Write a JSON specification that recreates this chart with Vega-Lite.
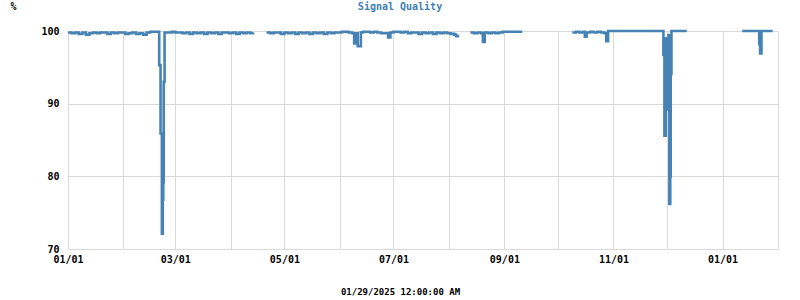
{
  "$schema": "https://vega.github.io/schema/vega-lite/v6.json",
  "width": 710,
  "height": 218,
  "autosize": "none",
  "padding": {"left": 68, "top": 31, "right": 22, "bottom": 51},
  "background": "white",
  "config": {
    "view": {"stroke": null},
    "font": "DejaVu Sans Mono"
  },
  "title": {
    "text": "Signal Quality",
    "color": "#3f7fb5",
    "font": "DejaVu Sans Mono",
    "fontSize": 10,
    "fontWeight": "bold",
    "anchor": "middle",
    "frame": "group",
    "dx": -23,
    "dy": 11,
    "offset": 0
  },
  "data": {
    "values": [
      {"t": "2024-01-01T00:00:00", "v": 99.8, "s": 1},
      {"t": "2024-01-03T00:00:00", "v": 99.7, "s": 1},
      {"t": "2024-01-05T00:00:00", "v": 99.8, "s": 1},
      {"t": "2024-01-07T00:00:00", "v": 99.6, "s": 1},
      {"t": "2024-01-09T00:00:00", "v": 99.8, "s": 1},
      {"t": "2024-01-11T00:00:00", "v": 99.5, "s": 1},
      {"t": "2024-01-13T00:00:00", "v": 99.7, "s": 1},
      {"t": "2024-01-15T00:00:00", "v": 99.8, "s": 1},
      {"t": "2024-01-17T00:00:00", "v": 99.7, "s": 1},
      {"t": "2024-01-19T00:00:00", "v": 99.8, "s": 1},
      {"t": "2024-01-21T00:00:00", "v": 99.8, "s": 1},
      {"t": "2024-01-23T00:00:00", "v": 99.6, "s": 1},
      {"t": "2024-01-25T00:00:00", "v": 99.8, "s": 1},
      {"t": "2024-01-27T00:00:00", "v": 99.7, "s": 1},
      {"t": "2024-01-29T00:00:00", "v": 99.8, "s": 1},
      {"t": "2024-01-31T00:00:00", "v": 99.8, "s": 1},
      {"t": "2024-02-02T00:00:00", "v": 99.6, "s": 1},
      {"t": "2024-02-04T00:00:00", "v": 99.7, "s": 1},
      {"t": "2024-02-06T00:00:00", "v": 99.8, "s": 1},
      {"t": "2024-02-08T00:00:00", "v": 99.6, "s": 1},
      {"t": "2024-02-10T00:00:00", "v": 99.7, "s": 1},
      {"t": "2024-02-12T00:00:00", "v": 99.5, "s": 1},
      {"t": "2024-02-14T00:00:00", "v": 99.8, "s": 1},
      {"t": "2024-02-16T00:00:00", "v": 99.9, "s": 1},
      {"t": "2024-02-18T00:00:00", "v": 99.9, "s": 1},
      {"t": "2024-02-20T00:00:00", "v": 99.9, "s": 1},
      {"t": "2024-02-21T00:00:00", "v": 95.3, "s": 1},
      {"t": "2024-02-21T18:00:00", "v": 85.9, "s": 1},
      {"t": "2024-02-22T12:00:00", "v": 72.1, "s": 1},
      {"t": "2024-02-23T00:00:00", "v": 76.8, "s": 1},
      {"t": "2024-02-23T06:00:00", "v": 79.2, "s": 1},
      {"t": "2024-02-23T12:00:00", "v": 93.0, "s": 1},
      {"t": "2024-02-24T00:00:00", "v": 99.8, "s": 1},
      {"t": "2024-02-26T00:00:00", "v": 99.8, "s": 1},
      {"t": "2024-02-28T00:00:00", "v": 99.9, "s": 1},
      {"t": "2024-03-01T00:00:00", "v": 99.8, "s": 1},
      {"t": "2024-03-03T00:00:00", "v": 99.8, "s": 1},
      {"t": "2024-03-05T00:00:00", "v": 99.7, "s": 1},
      {"t": "2024-03-07T00:00:00", "v": 99.8, "s": 1},
      {"t": "2024-03-09T00:00:00", "v": 99.6, "s": 1},
      {"t": "2024-03-11T00:00:00", "v": 99.8, "s": 1},
      {"t": "2024-03-13T00:00:00", "v": 99.7, "s": 1},
      {"t": "2024-03-15T00:00:00", "v": 99.8, "s": 1},
      {"t": "2024-03-17T00:00:00", "v": 99.6, "s": 1},
      {"t": "2024-03-19T00:00:00", "v": 99.8, "s": 1},
      {"t": "2024-03-21T00:00:00", "v": 99.7, "s": 1},
      {"t": "2024-03-23T00:00:00", "v": 99.8, "s": 1},
      {"t": "2024-03-25T00:00:00", "v": 99.6, "s": 1},
      {"t": "2024-03-27T00:00:00", "v": 99.8, "s": 1},
      {"t": "2024-03-29T00:00:00", "v": 99.8, "s": 1},
      {"t": "2024-03-31T00:00:00", "v": 99.7, "s": 1},
      {"t": "2024-04-02T00:00:00", "v": 99.8, "s": 1},
      {"t": "2024-04-04T00:00:00", "v": 99.6, "s": 1},
      {"t": "2024-04-06T00:00:00", "v": 99.8, "s": 1},
      {"t": "2024-04-08T00:00:00", "v": 99.7, "s": 1},
      {"t": "2024-04-10T00:00:00", "v": 99.8, "s": 1},
      {"t": "2024-04-12T00:00:00", "v": 99.7, "s": 1},
      {"t": "2024-04-13T12:00:00", "v": 99.8, "s": 1},
      {"t": "2024-04-21T00:00:00", "v": 99.8, "s": 2},
      {"t": "2024-04-23T00:00:00", "v": 99.7, "s": 2},
      {"t": "2024-04-25T00:00:00", "v": 99.8, "s": 2},
      {"t": "2024-04-27T00:00:00", "v": 99.8, "s": 2},
      {"t": "2024-04-29T00:00:00", "v": 99.6, "s": 2},
      {"t": "2024-05-01T00:00:00", "v": 99.8, "s": 2},
      {"t": "2024-05-03T00:00:00", "v": 99.7, "s": 2},
      {"t": "2024-05-05T00:00:00", "v": 99.8, "s": 2},
      {"t": "2024-05-07T00:00:00", "v": 99.6, "s": 2},
      {"t": "2024-05-09T00:00:00", "v": 99.8, "s": 2},
      {"t": "2024-05-11T00:00:00", "v": 99.7, "s": 2},
      {"t": "2024-05-13T00:00:00", "v": 99.8, "s": 2},
      {"t": "2024-05-15T00:00:00", "v": 99.6, "s": 2},
      {"t": "2024-05-17T00:00:00", "v": 99.8, "s": 2},
      {"t": "2024-05-19T00:00:00", "v": 99.7, "s": 2},
      {"t": "2024-05-21T00:00:00", "v": 99.8, "s": 2},
      {"t": "2024-05-23T00:00:00", "v": 99.6, "s": 2},
      {"t": "2024-05-25T00:00:00", "v": 99.8, "s": 2},
      {"t": "2024-05-27T00:00:00", "v": 99.7, "s": 2},
      {"t": "2024-05-29T00:00:00", "v": 99.8, "s": 2},
      {"t": "2024-05-31T00:00:00", "v": 99.8, "s": 2},
      {"t": "2024-06-02T00:00:00", "v": 99.9, "s": 2},
      {"t": "2024-06-04T00:00:00", "v": 99.9, "s": 2},
      {"t": "2024-06-06T00:00:00", "v": 99.8, "s": 2},
      {"t": "2024-06-08T00:00:00", "v": 99.7, "s": 2},
      {"t": "2024-06-09T00:00:00", "v": 98.3, "s": 2},
      {"t": "2024-06-10T06:00:00", "v": 99.7, "s": 2},
      {"t": "2024-06-11T00:00:00", "v": 97.9, "s": 2},
      {"t": "2024-06-12T18:00:00", "v": 99.8, "s": 2},
      {"t": "2024-06-14T00:00:00", "v": 99.9, "s": 2},
      {"t": "2024-06-16T00:00:00", "v": 99.9, "s": 2},
      {"t": "2024-06-18T00:00:00", "v": 99.8, "s": 2},
      {"t": "2024-06-20T00:00:00", "v": 99.9, "s": 2},
      {"t": "2024-06-22T00:00:00", "v": 99.8, "s": 2},
      {"t": "2024-06-24T00:00:00", "v": 99.7, "s": 2},
      {"t": "2024-06-26T00:00:00", "v": 99.7, "s": 2},
      {"t": "2024-06-28T00:00:00", "v": 99.1, "s": 2},
      {"t": "2024-06-29T06:00:00", "v": 99.8, "s": 2},
      {"t": "2024-07-01T00:00:00", "v": 99.9, "s": 2},
      {"t": "2024-07-03T00:00:00", "v": 99.9, "s": 2},
      {"t": "2024-07-05T00:00:00", "v": 99.8, "s": 2},
      {"t": "2024-07-07T00:00:00", "v": 99.9, "s": 2},
      {"t": "2024-07-09T00:00:00", "v": 99.7, "s": 2},
      {"t": "2024-07-11T00:00:00", "v": 99.8, "s": 2},
      {"t": "2024-07-13T00:00:00", "v": 99.8, "s": 2},
      {"t": "2024-07-15T00:00:00", "v": 99.6, "s": 2},
      {"t": "2024-07-17T00:00:00", "v": 99.8, "s": 2},
      {"t": "2024-07-19T00:00:00", "v": 99.7, "s": 2},
      {"t": "2024-07-21T00:00:00", "v": 99.8, "s": 2},
      {"t": "2024-07-23T00:00:00", "v": 99.6, "s": 2},
      {"t": "2024-07-25T00:00:00", "v": 99.8, "s": 2},
      {"t": "2024-07-27T00:00:00", "v": 99.7, "s": 2},
      {"t": "2024-07-29T00:00:00", "v": 99.8, "s": 2},
      {"t": "2024-07-31T00:00:00", "v": 99.7, "s": 2},
      {"t": "2024-08-02T00:00:00", "v": 99.6, "s": 2},
      {"t": "2024-08-04T00:00:00", "v": 99.5, "s": 2},
      {"t": "2024-08-05T00:00:00", "v": 99.3, "s": 2},
      {"t": "2024-08-06T00:00:00", "v": 99.5, "s": 2},
      {"t": "2024-08-13T00:00:00", "v": 99.8, "s": 3},
      {"t": "2024-08-15T00:00:00", "v": 99.7, "s": 3},
      {"t": "2024-08-17T00:00:00", "v": 99.8, "s": 3},
      {"t": "2024-08-19T00:00:00", "v": 99.7, "s": 3},
      {"t": "2024-08-20T00:00:00", "v": 98.5, "s": 3},
      {"t": "2024-08-21T00:00:00", "v": 99.8, "s": 3},
      {"t": "2024-08-23T00:00:00", "v": 99.7, "s": 3},
      {"t": "2024-08-25T00:00:00", "v": 99.8, "s": 3},
      {"t": "2024-08-27T00:00:00", "v": 99.7, "s": 3},
      {"t": "2024-08-29T00:00:00", "v": 99.8, "s": 3},
      {"t": "2024-08-31T00:00:00", "v": 99.9, "s": 3},
      {"t": "2024-09-02T00:00:00", "v": 99.9, "s": 3},
      {"t": "2024-09-05T00:00:00", "v": 99.9, "s": 3},
      {"t": "2024-09-08T00:00:00", "v": 99.9, "s": 3},
      {"t": "2024-09-11T00:00:00", "v": 99.9, "s": 3},
      {"t": "2024-10-09T00:00:00", "v": 99.8, "s": 4},
      {"t": "2024-10-11T00:00:00", "v": 99.9, "s": 4},
      {"t": "2024-10-13T00:00:00", "v": 99.8, "s": 4},
      {"t": "2024-10-15T00:00:00", "v": 99.9, "s": 4},
      {"t": "2024-10-16T00:00:00", "v": 99.2, "s": 4},
      {"t": "2024-10-17T00:00:00", "v": 99.8, "s": 4},
      {"t": "2024-10-19T00:00:00", "v": 99.9, "s": 4},
      {"t": "2024-10-21T00:00:00", "v": 99.8, "s": 4},
      {"t": "2024-10-23T00:00:00", "v": 99.9, "s": 4},
      {"t": "2024-10-25T00:00:00", "v": 99.8, "s": 4},
      {"t": "2024-10-27T00:00:00", "v": 99.7, "s": 4},
      {"t": "2024-10-28T00:00:00", "v": 98.6, "s": 4},
      {"t": "2024-10-29T00:00:00", "v": 100, "s": 4},
      {"t": "2024-11-05T00:00:00", "v": 100, "s": 4},
      {"t": "2024-11-15T00:00:00", "v": 100, "s": 4},
      {"t": "2024-11-25T00:00:00", "v": 100, "s": 4},
      {"t": "2024-11-28T22:00:00", "v": 96.7, "s": 4},
      {"t": "2024-11-29T12:00:00", "v": 85.6, "s": 4},
      {"t": "2024-11-30T06:00:00", "v": 99.0, "s": 4},
      {"t": "2024-11-30T18:00:00", "v": 89.2, "s": 4},
      {"t": "2024-12-01T06:00:00", "v": 91.3, "s": 4},
      {"t": "2024-12-01T18:00:00", "v": 99.4, "s": 4},
      {"t": "2024-12-02T06:00:00", "v": 76.2, "s": 4},
      {"t": "2024-12-02T18:00:00", "v": 80.0, "s": 4},
      {"t": "2024-12-03T00:00:00", "v": 94.1, "s": 4},
      {"t": "2024-12-03T10:00:00", "v": 100, "s": 4},
      {"t": "2024-12-08T00:00:00", "v": 100, "s": 4},
      {"t": "2024-12-12T00:00:00", "v": 100, "s": 4},
      {"t": "2025-01-12T00:00:00", "v": 100, "s": 5},
      {"t": "2025-01-16T00:00:00", "v": 100, "s": 5},
      {"t": "2025-01-20T00:00:00", "v": 100, "s": 5},
      {"t": "2025-01-21T12:00:00", "v": 98.2, "s": 5},
      {"t": "2025-01-22T00:00:00", "v": 96.9, "s": 5},
      {"t": "2025-01-22T18:00:00", "v": 100, "s": 5},
      {"t": "2025-01-26T00:00:00", "v": 100, "s": 5},
      {"t": "2025-01-29T00:00:00", "v": 100, "s": 5}
    ]
  },
  "mark": {"type": "line", "interpolate": "step-after", "color": "#4682b4", "strokeWidth": 2.6, "clip": false},
  "encoding": {
    "x": {
      "field": "t",
      "type": "temporal",
      "scale": {"domain": [{"year": 2024, "month": 1, "date": 1}, {"year": 2025, "month": 2, "date": 1}], "nice": false},
      "axis": {
        "values": [
          {"year": 2024, "month": 1, "date": 1}, {"year": 2024, "month": 2, "date": 1}, {"year": 2024, "month": 3, "date": 1},
          {"year": 2024, "month": 4, "date": 1}, {"year": 2024, "month": 5, "date": 1}, {"year": 2024, "month": 6, "date": 1},
          {"year": 2024, "month": 7, "date": 1}, {"year": 2024, "month": 8, "date": 1}, {"year": 2024, "month": 9, "date": 1},
          {"year": 2024, "month": 10, "date": 1}, {"year": 2024, "month": 11, "date": 1}, {"year": 2024, "month": 12, "date": 1},
          {"year": 2025, "month": 1, "date": 1}, {"year": 2025, "month": 2, "date": 1}
        ],
        "labelExpr": "month(datum.value) % 2 == 0 && !(year(datum.value) == 2025 && month(datum.value) == 1) ? timeFormat(datum.value, '%m/%d') : ''",
        "labelOverlap": false,
        "labelFlush": false,
        "labelFont": "DejaVu Sans Mono",
        "labelFontSize": 10,
        "labelFontWeight": "bold",
        "labelColor": "#000000",
        "labelPadding": 5,
        "ticks": false,
        "domain": false,
        "grid": true,
        "gridColor": "#d9d9d9",
        "gridWidth": 1,
        "gridOpacity": 1,
        "title": "01/29/2025 12:00:00 AM",
        "titleFont": "DejaVu Sans Mono",
        "titleFontSize": 9,
        "titleFontWeight": "bold",
        "titleColor": "#000000",
        "titleX": 332,
        "titleY": 42,
        "titleAlign": "center",
        "titleBaseline": "middle",
        "titleAnchor": null
      }
    },
    "y": {
      "field": "v",
      "type": "quantitative",
      "scale": {"domain": [70, 100], "nice": false, "zero": false},
      "axis": {
        "values": [70, 80, 90, 100],
        "labelFont": "DejaVu Sans Mono",
        "labelFontSize": 10,
        "labelFontWeight": "bold",
        "labelColor": "#000000",
        "labelPadding": 9,
        "ticks": false,
        "domain": false,
        "grid": true,
        "gridColor": "#d9d9d9",
        "gridWidth": 1,
        "gridOpacity": 1,
        "title": "%",
        "titleFont": "DejaVu Sans Mono",
        "titleFontSize": 10,
        "titleFontWeight": "bold",
        "titleColor": "#000000",
        "titleAngle": 0,
        "titleX": -55,
        "titleY": -25,
        "titleAlign": "center",
        "titleBaseline": "middle"
      }
    },
    "detail": {"field": "s", "type": "nominal"}
  }
}
